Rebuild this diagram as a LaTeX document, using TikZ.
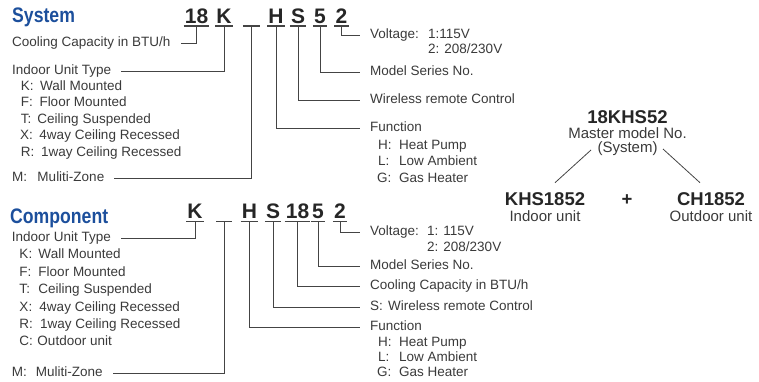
\documentclass[tikz,border=0pt]{standalone}
\usepackage{fontspec}
\setmainfont{Liberation Sans}
\definecolor{txt}{HTML}{3A3A3A}
\definecolor{codec}{HTML}{262626}
\definecolor{ttl}{HTML}{1C4F9C}
\definecolor{ln}{HTML}{444444}
\begin{document}
\begin{tikzpicture}[x=1pt,y=-1pt,
  lbl/.style={font=\fontsize{13.5}{16}\selectfont, text=txt, inner xsep=10pt, inner ysep=0pt, text height=0.72em, text depth=0.18em, anchor=base west},
  item/.style={font=\fontsize{13.5}{16}\selectfont, text=txt, inner sep=0pt, anchor=base west},
  codech/.style={font=\fontsize{21}{21}\selectfont\bfseries, text=codec, inner xsep=1pt, inner ysep=2.5pt, text depth=0pt, anchor=base},
  ttlnode/.style={font=\fontsize{21}{21}\selectfont\bfseries, text=ttl, inner sep=0pt, anchor=base west},
  conn/.style={draw=ln, line width=1pt},
  uline/.style={draw=ln, line width=1.2pt},
  bigcode/.style={font=\fontsize{18.5}{20}\selectfont\bfseries, text=codec, inner sep=0pt, anchor=base},
  subtxt/.style={font=\fontsize{15}{18}\selectfont, text=txt, inner sep=0pt, anchor=base},
  thin/.style={draw=ln, line width=0.8pt},
]
\useasboundingbox (0,0) rectangle (759,381);

% ---------------- System ----------------
\node[ttlnode] (tsys) at (12,22.7) {\scalebox{0.84}[1]{System}};

\node[codech] (s18) at (196.5,23.3) {18};
\node[codech] (sK) at (224,23.3) {K};
\node[codech, minimum width=17pt] (su) at (251.5,23.3) {};
\node[codech] (sH) at (276,23.3) {H};
\node[codech] (sS) at (298,23.3) {S};
\node[codech] (s5) at (320,23.3) {5};
\node[codech] (s2) at (341.5,23.3) {2};
\foreach \n in {s18,sK,su,sH,sS,s5,s2} \draw[uline] (\n.south west) -- (\n.south east);

\node[lbl] (scap) at (2,46.3) {Cooling Capacity in BTU/h};
\node[lbl] (sind) at (2,74) {Indoor Unit Type};
\node[item] (sk) at (20.7,90) {\makebox[19.3pt][l]{K:}Wall Mounted};
\node[item] (sf) at (20.7,106.5) {\makebox[18.6pt][l]{F:}Floor Mounted};
\node[item] (st) at (20.7,123) {\makebox[16.6pt][l]{T:}Ceiling Suspended};
\node[item] (sx) at (20,139.5) {\makebox[19.3pt][l]{X:}4way Ceiling Recessed};
\node[item] (sr) at (20.7,156) {\makebox[20.3pt][l]{R:}1way Ceiling Recessed};
\node[lbl] (smz) at (2,181) {\makebox[25.3pt][l]{M:}Muliti-Zone};

\node[lbl] (svol) at (360,38.3) {Voltage:};
\node[item] (sv1) at (428,38.3) {1:115V};
\node[item] (sv2) at (428,53.5) {2: 208/230V};
\node[lbl] (smod) at (360,75) {Model Series No.};
\node[lbl] (swir) at (360,103) {Wireless remote Control};
\node[lbl] (sfun) at (360,131.5) {Function};
\node[item] (sfh) at (378,149) {\makebox[21pt][l]{H:}Heat Pump};
\node[item] (sfl) at (378,165.5) {\makebox[21pt][l]{L:}Low Ambient};
\node[item] (sfg) at (377,182) {\makebox[22pt][l]{G:}Gas Heater};

\draw[conn] (s18.south) |- (scap.east);
\draw[conn] (sK.south) |- (sind.east);
\draw[conn] (su.south) |- (smz.east);
\draw[conn] (sH.south) |- (sfun.west);
\draw[conn] (sS.south) |- (swir.west);
\draw[conn] (s5.south) |- (smod.west);
\draw[conn] (s2.south) |- (svol.west);

% ---------------- Component ----------------
\node[ttlnode] (tcomp) at (10,223) {\scalebox{0.84}[1]{Component}};

\node[codech] (cK) at (195,218.5) {K};
\node[codech, minimum width=15pt] (cu) at (224,218.5) {};
\node[codech] (cH) at (249.5,218.5) {H};
\node[codech] (cS) at (273,218.5) {S};
\node[codech] (c18) at (297.5,218.5) {18};
\node[codech] (c5) at (318,218.5) {5};
\node[codech] (c2) at (340,218.5) {2};
\foreach \n in {cK,cu,cH,cS,c18,c5,c2} \draw[uline] (\n.south west) -- (\n.south east);

\node[lbl] (cind) at (1.7,241.5) {Indoor Unit Type};
\node[item] (ck) at (19.3,258) {\makebox[19pt][l]{K:}Wall Mounted};
\node[item] (cf) at (19.3,276) {\makebox[19pt][l]{F:}Floor Mounted};
\node[item] (ct) at (19.3,293) {\makebox[19pt][l]{T:}Ceiling Suspended};
\node[item] (cx) at (19.3,311) {\makebox[20pt][l]{X:}4way Ceiling Recessed};
\node[item] (cr) at (19.3,328) {\makebox[20.7pt][l]{R:}1way Ceiling Recessed};
\node[item] (cc) at (19.3,345) {\makebox[18pt][l]{C:}Outdoor unit};
\node[lbl] (cmz) at (1.7,376) {\makebox[24pt][l]{M:}Muliti-Zone};

\node[lbl] (cvol) at (360,235.5) {Voltage:};
\node[item] (cv1) at (427,235.5) {1: 115V};
\node[item] (cv2) at (427,251.5) {2: 208/230V};
\node[lbl] (cmod) at (360,269) {Model Series No.};
\node[lbl] (ccap) at (360,289) {Cooling Capacity in BTU/h};
\node[lbl] (cwir) at (360,310) {\makebox[18pt][l]{S:}Wireless remote Control};
\node[lbl] (cfun) at (360,330) {Function};
\node[item] (cfh) at (378,346) {\makebox[21pt][l]{H:}Heat Pump};
\node[item] (cfl) at (378,361.5) {\makebox[21pt][l]{L:}Low Ambient};
\node[item] (cfg) at (377,376.5) {\makebox[22pt][l]{G:}Gas Heater};

\draw[conn] (cK.south) |- (cind.east);
\draw[conn] (cu.south) |- (cmz.east);
\draw[conn] (cH.south) |- (cfun.west);
\draw[conn] (cS.south) |- (cwir.west);
\draw[conn] (c18.south) |- (ccap.west);
\draw[conn] (c5.south) |- (cmod.west);
\draw[conn] (c2.south) |- (cvol.west);

% ---------------- Master model ----------------
\node[bigcode] (m1) at (627.5,123.3) {18KHS52};
\node[subtxt] (m2) at (627.5,138) {Master model No.};
\node[subtxt] (m3) at (627.5,152.5) {(System)};
\node[bigcode] (kin) at (545,205.5) {KHS1852};
\node[subtxt] (kin2) at (545,221) {Indoor unit};
\node[bigcode] (plus) at (627,205.5) {+};
\node[bigcode] (kout) at (711,205.5) {CH1852};
\node[subtxt] (kout2) at (711,221) {Outdoor unit};
\coordinate (la1) at (591,150);
\coordinate (la2) at (555,182.7);
\coordinate (lb1) at (663,149);
\coordinate (lb2) at (700,182.7);
\draw[thin] (la1) -- (la2);
\draw[thin] (lb1) -- (lb2);
\end{tikzpicture}
\end{document}
